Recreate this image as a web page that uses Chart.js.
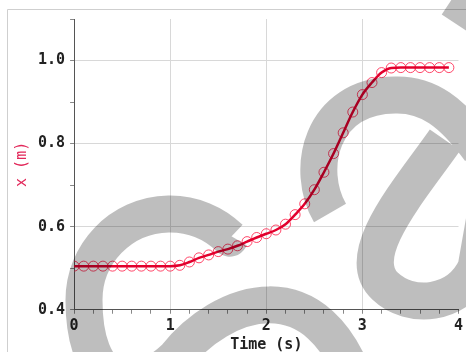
<!DOCTYPE html>
<html>
<head>
<meta charset="utf-8">
<script src="https://cdn.jsdelivr.net/npm/chart.js@4.4.1/dist/chart.umd.min.js"></script>
<style>
    html, body { margin: 0; padding: 0; background: #fff; }
    #wrap { position: relative; width: 466px; height: 352px; }
</style>
</head>
<body>
<div id="wrap"><canvas id="chart" width="466" height="352"></canvas></div>
<script>
// Cart position vs time, sampled every 0.1 s.
const times = [0.0, 0.1, 0.2, 0.3, 0.4, 0.5, 0.6, 0.7, 0.8, 0.9,
               1.0, 1.1, 1.2, 1.3, 1.4, 1.5, 1.6, 1.7, 1.8, 1.9,
               2.0, 2.1, 2.2, 2.3, 2.4, 2.5, 2.6, 2.7, 2.8, 2.9,
               3.0, 3.1, 3.2, 3.3, 3.4, 3.5, 3.6, 3.7, 3.8, 3.9];
const positions = [0.505, 0.505, 0.505, 0.505, 0.505, 0.505, 0.505, 0.505, 0.505, 0.505,
                   0.505, 0.507, 0.515, 0.525, 0.532, 0.540, 0.546, 0.554, 0.564, 0.574,
                   0.583, 0.592, 0.606, 0.629, 0.655, 0.689, 0.731, 0.776, 0.826, 0.876,
                   0.918, 0.947, 0.971, 0.982, 0.983, 0.983, 0.983, 0.983, 0.983, 0.983];
const xTickLabels = ['0', '1', '2', '3', '4'];
const yTickLabels = ['0.4', '0.6', '0.8', '1.0'];

const points = times.map((t, i) => ({ x: t, y: positions[i] }));
const monoFont = { family: '"DejaVu Sans Mono", monospace', size: 15, weight: 'bold' };

// white page + the thin frame at top/left
const framePlugin = {
    id: 'frame',
    beforeDraw(chart) {
        const ctx = chart.ctx;
        ctx.save();
        ctx.fillStyle = '#fff';
        ctx.fillRect(0, 0, chart.width, chart.height);
        ctx.strokeStyle = '#cfcfcf';
        ctx.lineWidth = 1;
        ctx.beginPath();
        ctx.moveTo(7.5, chart.height);
        ctx.lineTo(7.5, 9.5);
        ctx.lineTo(chart.width, 9.5);
        ctx.stroke();
        ctx.restore();
    }
};

// big grey brush strokes lying over the picture
const overlayPlugin = {
    id: 'overlay',
    afterDraw(chart) {
        const ctx = chart.ctx;
        const deg = Math.PI / 180;
        ctx.save();
        ctx.globalCompositeOperation = 'multiply';
        ctx.strokeStyle = '#bebebe';
        ctx.lineWidth = 37;
        ctx.lineCap = 'butt';
        ctx.lineJoin = 'round';
        ctx.beginPath();
        // left "S"
        ctx.moveTo(231, 236);
        ctx.arc(170, 300, 86, -46 * deg, -180 * deg, true);
        ctx.bezierCurveTo(84, 385, 130, 400, 175, 358);
        ctx.bezierCurveTo(220, 300, 320, 262, 360, 395);
        // right hook
        ctx.moveTo(330, 213);
        ctx.bezierCurveTo(305, 170, 320, 96, 395, 95);
        ctx.bezierCurveTo(428, 94, 452, 112, 480, 150);
        // right loop
        ctx.moveTo(445, 140);
        ctx.bezierCurveTo(410, 190, 352, 255, 385, 286);
        ctx.bezierCurveTo(410, 310, 458, 306, 476, 268);
        ctx.lineTo(488, 200);
        // top-right tip
        ctx.moveTo(452, -1);
        ctx.lineTo(500, 31);
        ctx.stroke();
        ctx.restore();
    }
};

const isTenth = (v, list) => list.includes(v.toFixed(1));

new Chart(document.getElementById('chart').getContext('2d'), {
    type: 'line',
    data: {
        datasets: [
            {
                label: 'fit',
                data: points,
                borderColor: 'rgb(226, 0, 45)',
                borderWidth: 2.5,
                pointRadius: 0,
                cubicInterpolationMode: 'monotone',
                fill: false,
                order: 1
            },
            {
                label: 'x (m)',
                data: points,
                showLine: false,
                pointRadius: 5,
                pointBorderWidth: 1,
                pointBorderColor: 'rgba(255, 40, 80, 0.85)',
                pointBackgroundColor: 'rgba(0, 0, 0, 0)',
                order: 2
            }
        ]
    },
    options: {
        responsive: false,
        animation: false,
        devicePixelRatio: 1,
        layout: { padding: { left: 7, right: 0, top: 19, bottom: 0 } },
        plugins: {
            legend: { display: false },
            tooltip: { enabled: false }
        },
        events: [],
        scales: {
            x: {
                type: 'linear',
                min: 0,
                max: 4,
                border: { color: '#555', width: 1 },
                grid: {
                    color: c => (c.tick && ['1.0', '2.0', '3.0'].includes(c.tick.value.toFixed(1))) ? '#d8d8d8' : 'rgba(0,0,0,0)',
                    tickColor: '#888',
                    tickLength: 4
                },
                ticks: {
                    stepSize: 0.2,
                    autoSkip: false,
                    maxRotation: 0,
                    padding: 3,
                    color: '#222',
                    font: monoFont,
                    callback: v => {
                        const s = String(Math.round(v));
                        return Math.abs(v - Math.round(v)) < 1e-6 && xTickLabels.includes(s) ? s : '';
                    }
                },
                title: {
                    display: true,
                    text: 'Time (s)',
                    color: '#222',
                    font: { ...monoFont, lineHeight: 0.95 },
                    padding: { top: 0, bottom: 0 }
                }
            },
            y: {
                min: 0.4,
                max: 1.1,
                border: { color: '#555', width: 1 },
                grid: {
                    color: c => (c.tick && ['0.6', '0.8', '1.0'].includes(c.tick.value.toFixed(1))) ? '#d8d8d8' : 'rgba(0,0,0,0)',
                    tickColor: '#888',
                    tickLength: 4
                },
                ticks: {
                    stepSize: 0.1,
                    autoSkip: false,
                    padding: 5,
                    color: '#222',
                    font: monoFont,
                    callback: v => isTenth(v, yTickLabels) ? v.toFixed(1) : ''
                },
                title: {
                    display: true,
                    text: 'x (m)',
                    color: 'rgb(226, 40, 90)',
                    font: { family: '"DejaVu Sans Mono", monospace', size: 15 },
                    padding: { top: 6, bottom: 2 }
                }
            }
        }
    },
    plugins: [framePlugin, overlayPlugin]
});
</script>
</body>
</html>
